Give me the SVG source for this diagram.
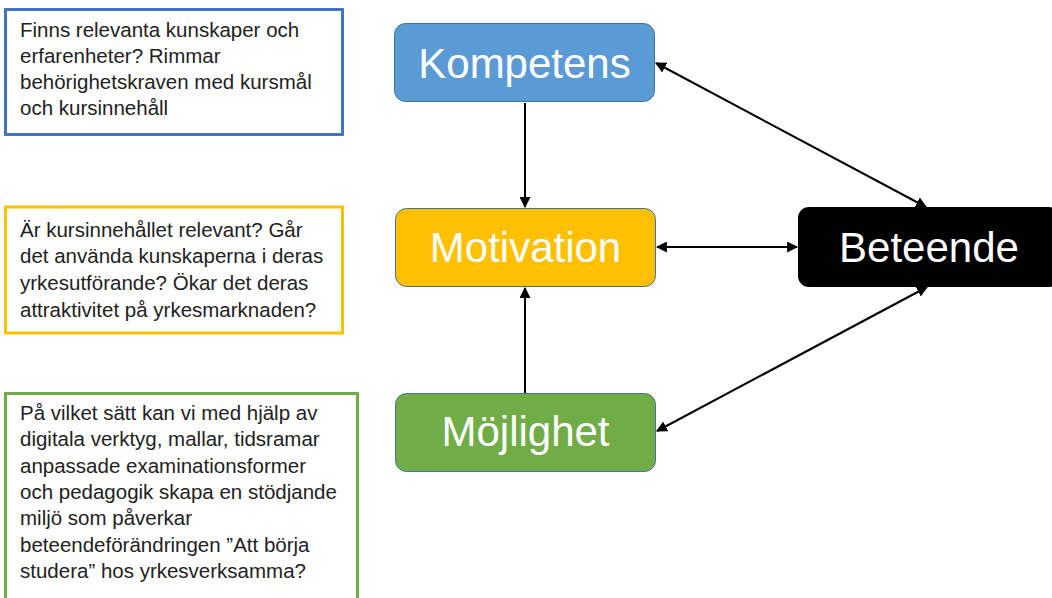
<svg xmlns="http://www.w3.org/2000/svg" width="1052" height="598" viewBox="0 0 1052 598">
<defs>
<style>
.q{fill:#fff;stroke-width:3}
.qt{font-family:"Liberation Sans",Arial,sans-serif;font-size:20.5px;fill:#222}
.nt{font-family:"Liberation Sans",Arial,sans-serif;font-size:42px;fill:#fff;text-anchor:middle}
.c{stroke:#000;stroke-width:2;fill:none}
</style>
<marker id="a" viewBox="0 0 10 10" refX="9" refY="5" markerWidth="5.5" markerHeight="5.5" orient="auto-start-reverse" markerUnits="strokeWidth">
<path d="M0,0 L10,5 L0,10 z" fill="#000"/>
</marker>
</defs>
<rect width="1052" height="598" fill="#fff"/>
<g id="q1">
<rect class="q" x="5.5" y="9.5" width="337" height="125" stroke="#4472C4"/>
<text class="qt" x="20" y="37">Finns relevanta kunskaper och</text>
<text class="qt" x="20" y="63">erfarenheter? Rimmar</text>
<text class="qt" x="20" y="89">behörighetskraven med kursmål</text>
<text class="qt" x="20" y="115">och kursinnehåll</text>
</g>
<g id="q2">
<rect class="q" x="5.5" y="207" width="337" height="126" stroke="#FFC000" stroke-width="4"/>
<text class="qt" x="20" y="237">Är kursinnehållet relevant? Går</text>
<text class="qt" x="20" y="263">det använda kunskaperna i deras</text>
<text class="qt" x="20" y="290">yrkesutförande? Ökar det deras</text>
<text class="qt" x="20" y="317">attraktivitet på yrkesmarknaden?</text>
</g>
<g id="q3">
<rect class="q" x="5.5" y="393.5" width="352" height="220" stroke="#70AD47"/>
<text class="qt" x="20" y="420">På vilket sätt kan vi med hjälp av</text>
<text class="qt" x="20" y="446">digitala verktyg, mallar, tidsramar</text>
<text class="qt" x="20" y="473">anpassade examinationsformer</text>
<text class="qt" x="20" y="499">och pedagogik skapa en stödjande</text>
<text class="qt" x="20" y="525">miljö som påverkar</text>
<text class="qt" x="20" y="552">beteendeförändringen ”Att börja</text>
<text class="qt" x="20" y="578">studera” hos yrkesverksamma?</text>
</g>
<g id="kompetens">
<rect x="394.5" y="23.5" width="260" height="78" rx="11" fill="#5B9BD5" stroke="#41719C"/>
<text class="nt" x="524.5" y="78">Kompetens</text>
</g>
<g id="motivation">
<rect x="395.5" y="208.5" width="260" height="78" rx="11" fill="#FFC000" stroke="#41719C"/>
<text class="nt" x="525.5" y="262">Motivation</text>
</g>
<g id="mojlighet">
<rect x="395.5" y="393.5" width="260" height="78" rx="11" fill="#70AD47" stroke="#41719C"/>
<text class="nt" x="525.5" y="446">Möjlighet</text>
</g>
<g id="beteende">
<rect x="798" y="207" width="262" height="80" rx="11" fill="#000"/>
<text class="nt" x="929" y="262">Beteende</text>
</g>
<g id="connectors">
<line class="c" x1="525" y1="103" x2="525" y2="207" marker-end="url(#a)"/>
<line class="c" x1="525" y1="393" x2="525" y2="288" marker-end="url(#a)"/>
<line class="c" x1="657" y1="247" x2="797" y2="247" marker-start="url(#a)" marker-end="url(#a)"/>
<line class="c" x1="656" y1="63" x2="926" y2="207" marker-start="url(#a)" marker-end="url(#a)"/>
<line class="c" x1="657" y1="431" x2="927" y2="287" marker-start="url(#a)" marker-end="url(#a)"/>
</g>
</svg>
